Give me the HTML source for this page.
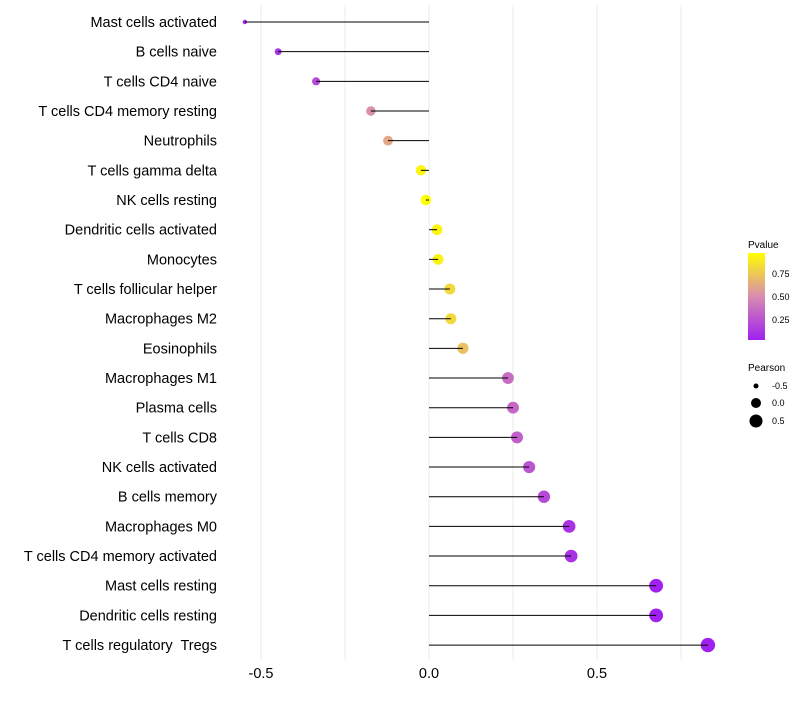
<!DOCTYPE html>
<html><head><meta charset="utf-8"><style>
body{margin:0;background:#fff;font-family:"Liberation Sans",sans-serif}
text{white-space:pre}
</style></head><body>
<svg id="chart" width="800" height="700" xmlns="http://www.w3.org/2000/svg" font-family="Liberation Sans, sans-serif">
<defs><linearGradient id="pg" x1="0" y1="1" x2="0" y2="0">
<stop offset="0" stop-color="#a020f0"/><stop offset="0.5" stop-color="#d88cb0"/><stop offset="1" stop-color="#ffff00"/></linearGradient></defs>
<g id="grid"></g>
<g id="marks"></g>
<g id="ylabels"></g>
<g id="xlabels"></g>
<g>
<text x="748" y="248" font-size="10">Pvalue</text>
<rect x="748" y="253" width="17" height="87" fill="url(#pg)"/>
<text x="772" y="277" font-size="9">0.75</text>
<text x="772" y="300" font-size="9">0.50</text>
<text x="772" y="323" font-size="9">0.25</text>
</g>
<g>
<text x="748" y="371" font-size="10">Pearson</text>
<circle cx="756" cy="386" r="2.5" fill="#000"/><text x="772" y="389" font-size="9">-0.5</text>
<circle cx="756" cy="403" r="5" fill="#000"/><text x="772" y="406" font-size="9">0.0</text>
<circle cx="756" cy="421" r="6.5" fill="#000"/><text x="772" y="424" font-size="9">0.5</text>
</g>
</svg>
<script>
const categories=["Mast cells activated","B cells naive","T cells CD4 naive","T cells CD4 memory resting","Neutrophils","T cells gamma delta","NK cells resting","Dendritic cells activated","Monocytes","T cells follicular helper","Macrophages M2","Eosinophils","Macrophages M1","Plasma cells","T cells CD8","NK cells activated","B cells memory","Macrophages M0","T cells CD4 memory activated","Mast cells resting","Dendritic cells resting","T cells regulatory  Tregs"];
const pearson=[-0.548,-0.449,-0.336,-0.173,-0.122,-0.024,-0.009,0.024,0.027,0.062,0.065,0.101,0.235,0.25,0.262,0.298,0.342,0.417,0.423,0.676,0.676,0.83];
const pvalue=[0.05,0.1,0.2,0.5,0.6,0.92,0.97,0.92,0.9,0.8,0.8,0.7,0.35,0.33,0.3,0.25,0.2,0.1,0.1,0.02,0.02,0.01];
const xTicks=[-0.5,0,0.5];
const xTickLabels=["-0.5","0.0","0.5"];
const NS="http://www.w3.org/2000/svg";
const x=v=>429+v*336;
const y=i=>22+i*29.67;
function mk(t,a,p){const e=document.createElementNS(NS,t);for(const k in a)e.setAttribute(k,a[k]);p.appendChild(e);return e;}
function lerp(a,b,t){return a.map((v,i)=>Math.round(v+(b[i]-v)*t));}
function col(p){const t=Math.max(0,Math.min(1,(p-0.022)/(0.956-0.022)));const c=t<0.5?lerp([160,32,240],[216,140,176],t*2):lerp([216,140,176],[255,255,0],(t-0.5)*2);return `rgb(${c})`;}
const r=v=>2+5.2*Math.sqrt(Math.max(0,(v+0.55)/1.38));
const g=document.getElementById('grid');
[-0.5,-0.25,0,0.25,0.5,0.75].forEach(v=>{const l=mk('line',{x1:x(v),x2:x(v),y1:5,y2:660,stroke:'#ebebeb','stroke-width':1},g);

});
const m=document.getElementById('marks'),yl=document.getElementById('ylabels'),xl=document.getElementById('xlabels');
categories.forEach((c,i)=>{
const d=mk('circle',{cx:x(pearson[i]),cy:y(i),r:r(pearson[i]),fill:col(pvalue[i])},m);


const s=mk('line',{x1:x(0),x2:x(pearson[i]),y1:y(i),y2:y(i),stroke:'#000','stroke-width':1},m);


const t=mk('text',{x:217,y:y(i)+5,'font-size':14.5,'text-anchor':'end',fill:'#000'},yl);t.textContent=c;


});
xTicks.forEach((v,i)=>{const t=mk('text',{x:x(v),y:678,'font-size':14.5,'text-anchor':'middle'},xl);t.textContent=xTickLabels[i];

});
</script>
</body></html>
